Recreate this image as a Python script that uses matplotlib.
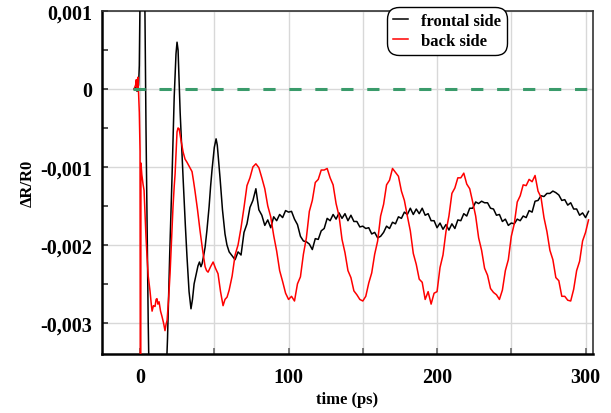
import numpy as np
import matplotlib
matplotlib.use("Agg")
import matplotlib.pyplot as plt
from matplotlib.ticker import MultipleLocator, FuncFormatter

# values in units of 1e-3 (dR/R0)
# frontal side, early part (explicit times in ps)
front_t_early = [-4, -3, -2, -1, -0.5, 0, 1.5, 3, 4, 5.5, 7, 10, 13, 16, 18.5, 20, 21.5, 23,
                 24.2, 24.9, 25.6, 27, 29, 30.5, 31.6, 33, 34.3, 35.3, 36.4, 37.5, 39, 40, 41,
                 41.8, 43, 43.8, 45, 46.5, 47.5, 48.5, 50, 51.2, 52, 53, 53.9, 55.5, 57.2, 58.5, 60]
front_v_early = [0.0, 0.02, -0.03, 0.05, 0.3, 1.2, 3.5, 1.6, -0.5, -3.0, -4.8, -5.8, -5.5, -4.5,
                 -3.2, -2.1, -1.15, -0.1, 0.45, 0.60, 0.5, -0.3, -1.15, -1.75, -2.15, -2.6, -2.82,
                 -2.7, -2.5, -2.4, -2.27, -2.22, -2.28, -2.24, -2.12, -2.03, -1.82, -1.51, -1.25,
                 -1.03, -0.75, -0.64, -0.72, -0.95, -1.15, -1.55, -1.86, -2.0, -2.09]
# frontal side, every 2 ps from 62 ps
front_v_late = [-2.14, -2.19, -2.09, -2.13, -1.84, -1.73, -1.52, -1.43, -1.28, -1.55,
                -1.62, -1.75, -1.68, -1.78, -1.64, -1.69, -1.61, -1.65, -1.56, -1.58,
                -1.57, -1.67, -1.74, -1.89, -1.95, -1.96, -1.99, -2.06, -1.92, -1.93,
                -1.82, -1.79, -1.66, -1.69, -1.61, -1.67, -1.59, -1.66, -1.60, -1.69,
                -1.62, -1.70, -1.70, -1.77, -1.76, -1.79, -1.78, -1.86, -1.84, -1.91,
                -1.89, -1.84, -1.76, -1.79, -1.71, -1.73, -1.64, -1.66, -1.58, -1.61,
                -1.53, -1.61, -1.54, -1.60, -1.53, -1.62, -1.60, -1.69, -1.69, -1.78,
                -1.72, -1.80, -1.74, -1.81, -1.73, -1.79, -1.68, -1.69, -1.60, -1.63,
                -1.53, -1.53, -1.45, -1.47, -1.44, -1.46, -1.46, -1.53, -1.54, -1.62,
                -1.61, -1.70, -1.67, -1.75, -1.72, -1.73, -1.67, -1.69, -1.63, -1.65,
                -1.56, -1.58, -1.44, -1.43, -1.37, -1.38, -1.34, -1.34, -1.31, -1.33,
                -1.36, -1.43, -1.42, -1.49, -1.46, -1.54, -1.54, -1.62, -1.59, -1.65,
                -1.57]

# back side, early part
back_t_early = [-4, -3, -2.5, -2, -1.5, -1, -0.5, 0, 0.3, 0.6, 1.2, 2, 2.7, 3.4, 4, 4.7, 5.5,
                6.7, 7.5, 8.1, 9, 10.1, 10.8, 11.4, 12, 12.8, 13.8, 14.8, 15.8, 16.8, 17.5, 18.2,
                19.2, 20.2, 21.2, 22.2, 23, 23.6, 24.3, 24.9, 25.6, 26.3, 27.5, 29, 30.3, 31.6,
                33.3, 35, 36, 37, 38.7, 40.4, 42, 43.8, 44.8, 45.8, 47.5, 49.2, 50.8, 52.5,
                54.2, 55.9, 57.2, 58.6, 60]
back_v_early = [0.0, 0.05, 0.12, -0.02, 0.15, -0.05, -0.3, -0.8, -6.0, -0.95, -1.1, -1.22, -1.3,
                -1.64, -1.9, -2.15, -2.4, -2.59, -2.75, -2.85, -2.78, -2.79, -2.7, -2.69, -2.76,
                -2.73, -2.85, -2.92, -3.0, -3.1, -3.02, -2.97, -2.7, -2.37, -1.95, -1.51, -1.25,
                -1.09, -0.8, -0.55, -0.5, -0.51, -0.65, -0.81, -0.9, -0.94, -1.0, -1.06, -1.18,
                -1.31, -1.55, -1.82, -2.05, -2.28, -2.33, -2.35, -2.28, -2.22, -2.3, -2.37,
                -2.6, -2.78, -2.7, -2.67, -2.58]
# back side, every 2 ps from 62 ps
back_v_late = [-2.40, -2.13, -2.00, -1.78, -1.52, -1.24, -1.14, -1.00, -0.96, -1.01,
               -1.14, -1.28, -1.50, -1.64, -1.88, -2.08, -2.33, -2.47, -2.62, -2.70,
               -2.66, -2.72, -2.50, -2.41, -2.12, -1.91, -1.57, -1.43, -1.20, -1.16,
               -1.04, -1.04, -1.02, -1.14, -1.23, -1.47, -1.63, -1.93, -2.10, -2.33,
               -2.42, -2.59, -2.64, -2.70, -2.72, -2.66, -2.49, -2.36, -2.12, -1.95,
               -1.63, -1.48, -1.23, -1.17, -1.02, -1.07, -1.12, -1.31, -1.43, -1.63,
               -1.82, -2.11, -2.25, -2.44, -2.48, -2.70, -2.60, -2.76, -2.62, -2.60,
               -2.29, -2.13, -1.83, -1.63, -1.34, -1.27, -1.14, -1.14, -1.08, -1.22,
               -1.28, -1.45, -1.63, -1.91, -2.07, -2.30, -2.39, -2.56, -2.61, -2.64,
               -2.70, -2.58, -2.33, -2.19, -1.89, -1.73, -1.45, -1.37, -1.23, -1.24,
               -1.16, -1.19, -1.11, -1.31, -1.39, -1.65, -1.83, -2.07, -2.19, -2.42,
               -2.46, -2.66, -2.66, -2.71, -2.72, -2.57, -2.33, -2.21, -1.95, -1.84,
               -1.68]

x_ticks = [0, 100, 200, 300]
y_ticks = [0.001, 0, -0.001, -0.002, -0.003]

front_t = front_t_early + list(np.arange(62, 62 + 2 * len(front_v_late), 2))
front_v = np.array(front_v_early + front_v_late) * 1e-3
back_t = back_t_early + list(np.arange(62, 62 + 2 * len(back_v_late), 2))
back_v = np.array(back_v_early + back_v_late) * 1e-3

plt.rcParams['font.family'] = ['Liberation Serif', 'DejaVu Serif']
plt.rcParams['font.weight'] = 'bold'

fig = plt.figure(figsize=(6.11, 4.14), dpi=100)
ax = fig.add_axes([0.167, 0.1425, 0.8035, 0.8285])

ax.plot(front_t, front_v, color='black', lw=1.1, label='frontal side', zorder=3)
ax.plot(back_t, back_v, color='red', lw=1.1, label='back side', zorder=3)
ax.hlines(0, -5, 305, colors='#3a9b6b', lw=2.2, linestyles=(0, (4, 4.5)), zorder=4)

ax.set_xlim(-25.6, 305)
ax.set_ylim(-0.0034, 0.001)

ax.xaxis.set_major_locator(MultipleLocator(50))
ax.xaxis.set_major_formatter(FuncFormatter(lambda v, p: str(int(round(v))) if round(v) in x_ticks else ''))
ax.set_yticks(y_ticks)
ax.yaxis.set_minor_locator(MultipleLocator(0.0005))
ax.yaxis.set_major_formatter(FuncFormatter(lambda v, p: '0' if abs(v) < 1e-9 else ('%.3f' % v).replace('.', ',')))

ax.grid(True, which='major', color='#d8d8d8', lw=1.0, zorder=0)
ax.set_axisbelow(True)

ax.tick_params(axis='x', which='both', direction='in', length=4, width=1.2, color='#666666',
               labelsize=14.5, pad=9, top=False)
ax.tick_params(axis='y', which='both', direction='in', length=4, width=1.2, color='#333333',
               labelsize=14.5, pad=7, right=False)

for s in ['left', 'bottom']:
    ax.spines[s].set_linewidth(1.8)
    ax.spines[s].set_color('black')
for s in ['top', 'right']:
    ax.spines[s].set_linewidth(1.2)
    ax.spines[s].set_color('#333333')

ax.set_xlabel('time (ps)', fontsize=12, fontweight='bold')
ax.xaxis.set_label_coords(0.499, -0.108)
ax.set_ylabel('ΔR/R0', fontsize=12, fontweight='bold')
ax.yaxis.set_label_coords(-0.135, 0.5)

leg = ax.legend(loc='upper left', bbox_to_anchor=(387 / 611, 1 - 8 / 414), bbox_transform=fig.transFigure,
                fontsize=12, handlelength=0.9, handletextpad=0.8, borderpad=0.35, labelspacing=0.25,
                borderaxespad=0, fancybox=True, framealpha=1, edgecolor='black')
leg.get_frame().set_boxstyle('round', pad=0, rounding_size=0.7)
leg.get_frame().set_linewidth(1.0)
leg.set_zorder(10)

fig.savefig('out.png', dpi=100)
